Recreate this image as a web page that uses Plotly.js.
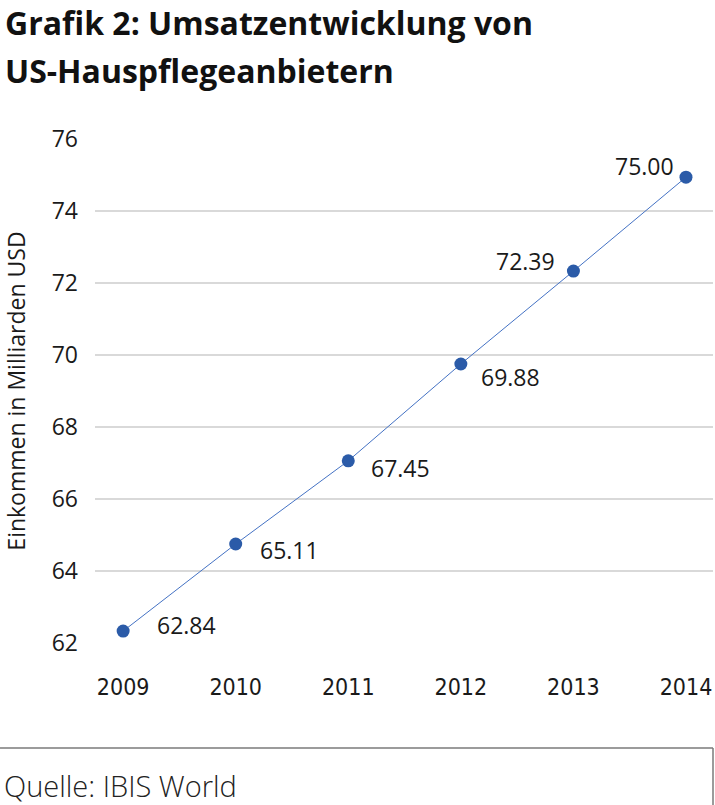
<!DOCTYPE html>
<html>
<head>
<meta charset="utf-8">
<script src="https://cdn.plot.ly/plotly-3.0.1.min.js"></script>
<style>
  html, body { margin: 0; padding: 0; background: #fff; }
  #chart { width: 715px; height: 805px; }
</style>
</head>
<body>
<div id="chart"></div>
<script>
// years on the x axis
const years = ['2009', '2010', '2011', '2012', '2013', '2014'];
// where the points sit in the picture (Mrd. USD)
const plotted = [62.33, 64.75, 67.06, 69.75, 72.33, 74.94];
// the printed value labels
const valueLabels = ['62.84', '65.11', '67.45', '69.88', '72.39', '75.00'];
const yTicks = [62, 64, 66, 68, 70, 72, 74, 76];

const fontMain = '"Open Sans", "Noto Sans", sans-serif';

let trace = {
  x: years,
  y: plotted,
  type: 'scatter',
  mode: 'lines+markers',
  hoverinfo: 'skip',
  line: { color: '#4472C4', width: 1 },
  marker: { color: '#2B5BA8', size: 13 }
};

// label offsets in px [xshift, yshift], like the hand placed labels in the original
const labelShift = [[32, 6], [22, -6], [21, -7], [18, -13], [-16, 10], [-10, 11]];

// value labels: right of the point for the first four, upper left for the last two
// (category index used for x, numeric-looking strings would be read as positions)
let annotations = years.map((yr, i) => {
  let right = i < 4;
  return {
    x: i,
    y: plotted[i],
    xref: 'x',
    yref: 'y',
    text: valueLabels[i],
    showarrow: false,
    xanchor: right ? 'left' : 'right',
    yanchor: 'middle',
    xshift: labelShift[i][0],
    yshift: labelShift[i][1],
    font: { family: fontMain, size: 23, color: '#1a1a1a' }
  };
});

annotations.push({
  xref: 'paper', yref: 'paper',
  x: -0.149, y: 1.232,
  xanchor: 'left', yanchor: 'middle',
  text: '<b>Grafik 2: Umsatzentwicklung von</b>',
  showarrow: false,
  font: { family: fontMain, size: 32, color: '#111' }
});
annotations.push({
  xref: 'paper', yref: 'paper',
  x: -0.149, y: 1.135,
  xanchor: 'left', yanchor: 'middle',
  text: '<b>US-Hauspflegeanbietern</b>',
  showarrow: false,
  font: { family: fontMain, size: 32, color: '#111' }
});
annotations.push({
  xref: 'paper', yref: 'paper',
  x: -0.151, y: -0.282,
  xanchor: 'left', yanchor: 'middle',
  text: 'Quelle: IBIS World',
  showarrow: false,
  font: { family: fontMain, size: 29, color: '#222', weight: 300 }
});

let layout = {
  width: 715,
  height: 805,
  margin: { l: 95, r: 2, t: 139, b: 162, pad: 0 },
  paper_bgcolor: '#fff',
  plot_bgcolor: '#fff',
  showlegend: false,
  xaxis: {
    type: 'category',
    range: [-0.25, 5.24],
    showgrid: false,
    zeroline: false,
    showline: false,
    ticks: '',
    ticklabelstandoff: 28,
    tickfont: { family: '"Liberation Sans Narrow", "DejaVu Sans Condensed", sans-serif', size: 23, color: '#1a1a1a' },
    fixedrange: true
  },
  yaxis: {
    range: [62, 76],
    tickvals: yTicks,
    showgrid: true,
    gridcolor: '#d9d9d9',
    gridwidth: 1.5,
    zeroline: false,
    showline: false,
    ticks: '',
    ticklabelstandoff: 16,
    tickfont: { family: fontMain, size: 23, color: '#1a1a1a' },
    title: {
      text: 'Einkommen in Milliarden USD',
      standoff: 20,
      font: { family: fontMain, size: 23, color: '#1a1a1a' }
    },
    fixedrange: true
  },
  shapes: [
    {
      type: 'line', xref: 'paper', yref: 'paper',
      x0: -0.1537, x1: 1.0, y0: -0.2083, y1: -0.2083,
      line: { color: '#7a7a7a', width: 1.5 }
    },
    {
      type: 'line', xref: 'paper', yref: 'paper',
      x0: 1.0, x1: 1.0, y0: -0.2083, y1: -0.33,
      line: { color: '#7a7a7a', width: 1.5 }
    }
  ],
  annotations: annotations
};

Plotly.newPlot('chart', [trace], layout, { displayModeBar: false, staticPlot: true });
</script>
</body>
</html>
